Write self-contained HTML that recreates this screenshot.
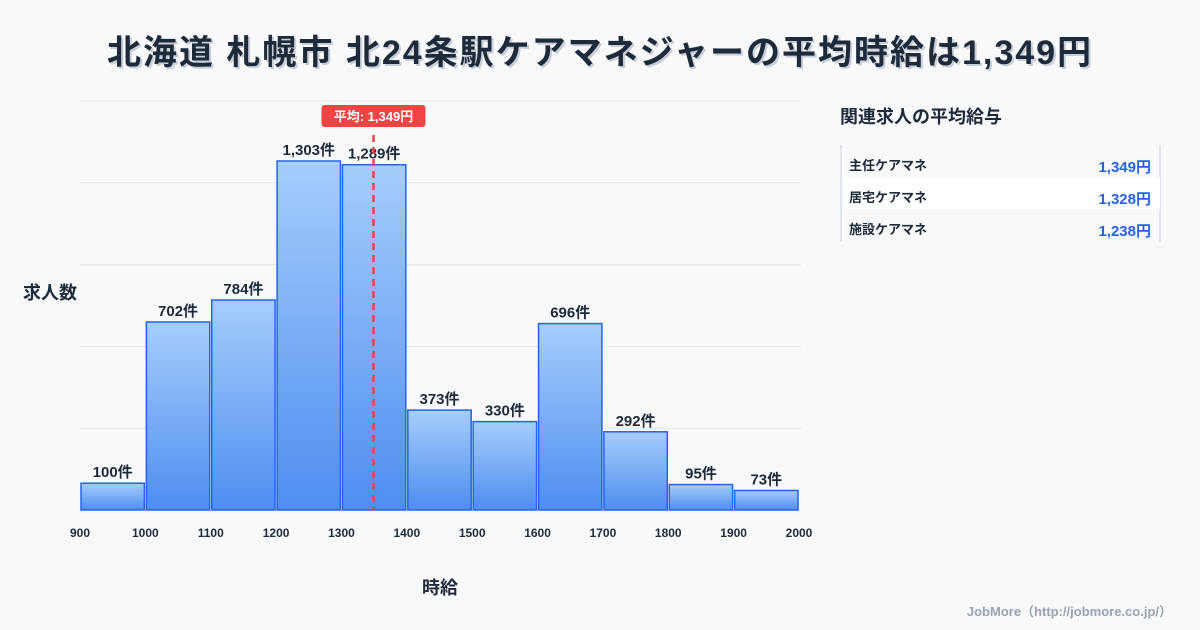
<!DOCTYPE html>
<html><head><meta charset="utf-8"><style>
body{margin:0;background:#f8f9fb;font-family:"Liberation Sans","Noto Sans CJK JP",sans-serif;}
#wrap{position:relative;width:1200px;height:630px;overflow:hidden;background:#f8f9fb}
</style></head><body>
<div id="wrap">
<svg id="svg" width="1200" height="630" xmlns="http://www.w3.org/2000/svg">
<defs><linearGradient id="g" x1="0" y1="0" x2="0" y2="1"><stop offset="0" stop-color="#a6cdfb"/><stop offset="1" stop-color="#4d8ef0"/></linearGradient></defs>
<text x="602" y="66" text-anchor="middle" font-size="34" font-weight="bold" letter-spacing="2" fill="#aab4c4" opacity="0.6">北海道 札幌市 北24条駅ケアマネジャーの平均時給は1,349円</text>
<text x="600" y="64" text-anchor="middle" font-size="34" font-weight="bold" letter-spacing="2" fill="#1e2a3a">北海道 札幌市 北24条駅ケアマネジャーの平均時給は1,349円</text>
<g id="grid"></g><g id="bars"></g><g id="xt"></g>
<text x="50" y="299" text-anchor="middle" font-size="18" font-weight="bold" fill="#1e2a3a">求人数</text>
<text x="440" y="594" text-anchor="middle" font-size="18" font-weight="bold" fill="#1e2a3a">時給</text>
<text x="840" y="123" font-size="18" font-weight="bold" fill="#1e2a3a">関連求人の平均給与</text>
<line x1="841" y1="145" x2="841" y2="242" stroke="#c8d0dc"/>
<line x1="1160" y1="145" x2="1160" y2="242" stroke="#c8d0dc"/>
<rect x="842" y="177" width="318" height="32" fill="#ffffff"/>
<g font-size="13" font-weight="bold">
<text x="849" y="170" fill="#1e2a3a">主任ケアマネ</text>
<text x="1151" y="172" text-anchor="end" font-size="15" fill="#2563eb">1,349円</text>
<text x="849" y="202" fill="#1e2a3a">居宅ケアマネ</text>
<text x="1151" y="204" text-anchor="end" font-size="15" fill="#2563eb">1,328円</text>
<text x="849" y="234" fill="#1e2a3a">施設ケアマネ</text>
<text x="1151" y="236" text-anchor="end" font-size="15" fill="#2563eb">1,238円</text>
</g>
<text x="1172" y="616" text-anchor="end" font-size="13" font-weight="bold" fill="#9aa3b0">JobMore（http://jobmore.co.jp/）</text>
<g id="mean"></g>
</svg></div>
<script>
const binStarts=[900,1000,1100,1200,1300,1400,1500,1600,1700,1800,1900];
const counts=[100,702,784,1303,1289,373,330,696,292,95,73];
const xTicks=[900,1000,1100,1200,1300,1400,1500,1600,1700,1800,1900,2000];
const meanValue=1349;
const yGridMax=1527, yGridStep=305.4;
const NS="http://www.w3.org/2000/svg";
const X0=80,X1=799,Y0=510,YT=101;
const xs=v=>X0+(v-900)/(2000-900)*(X1-X0);
const ys=v=>Y0-v/yGridMax*(Y0-YT);
function mk(t,a,p){const e=document.createElementNS(NS,t);for(const k in a)e.setAttribute(k,a[k]);p.appendChild(e);return e;}
const grid=document.getElementById('grid');
for(let i=0;i<=5;i++){const y=ys(i*yGridStep);
const l=mk('line',{x1:X0,x2:X1+2,y1:y,y2:y,stroke:'#e3e7ee'},grid);

}
const bars=document.getElementById('bars');
binStarts.forEach((b,i)=>{const x=xs(b),w=xs(b+100)-x,y=ys(counts[i]);
const r=mk('rect',{x:x+1,y:y,width:w-2,height:Y0-y,fill:'url(#g)',stroke:'#2563eb','stroke-width':1.5},bars);


const t=mk('text',{x:x+w/2,y:y-6,'text-anchor':'middle','font-size':15,'font-weight':'bold',fill:'#1e2a3a'},bars);
t.textContent=counts[i].toLocaleString('en-US')+'件';

});
const xt=document.getElementById('xt');
xTicks.forEach(v=>{const t=mk('text',{x:xs(v),y:537,'text-anchor':'middle','font-size':12,'font-weight':'bold',fill:'#1e2a3a'},xt);
t.textContent=v;

});
const mg=document.getElementById('mean');const mx=xs(meanValue);
const ml=mk('line',{x1:mx,x2:mx,y1:135,y2:Y0,stroke:'#ef4444','stroke-width':2.5,'stroke-dasharray':'7,5'},mg);


const mr=mk('rect',{x:mx-52,y:105,width:104,height:22,rx:3,fill:'#ef4444'},mg);


const mt=mk('text',{x:mx,y:121,'text-anchor':'middle','font-size':13,'font-weight':'bold',fill:'#fff'},mg);
mt.textContent='平均: '+meanValue.toLocaleString('en-US')+'円';


</script>
</body></html>
